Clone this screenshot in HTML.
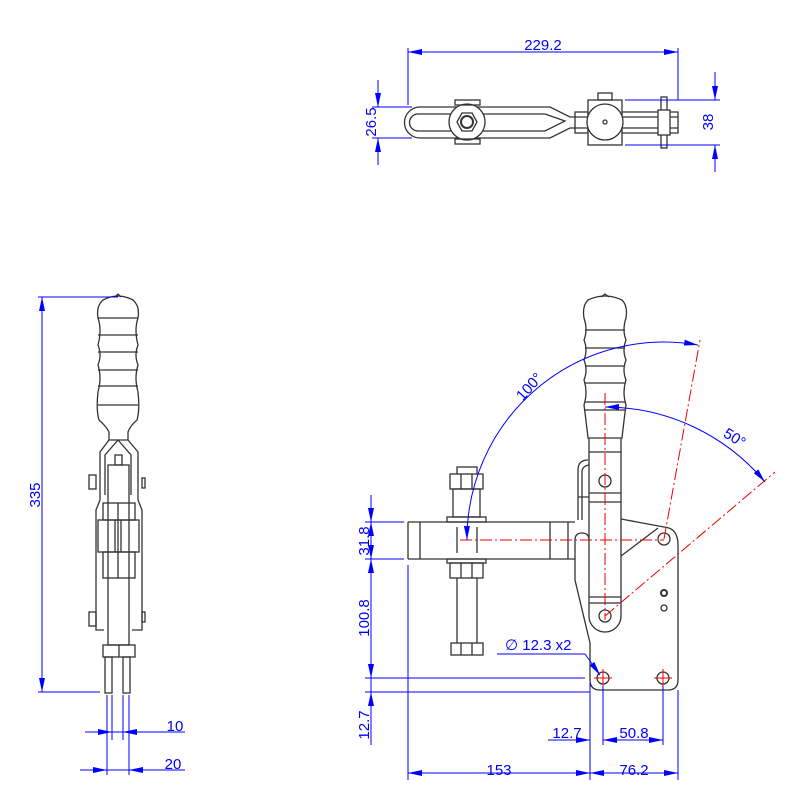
<!DOCTYPE html>
<html><head><meta charset="utf-8"><style>body{margin:0;background:#fff}svg{display:block}text{font-family:"Liberation Sans",sans-serif;fill:#00f;font-size:15px}</style></head><body>
<svg width="800" height="800" viewBox="0 0 800 800" xmlns="http://www.w3.org/2000/svg">
<defs>
<marker id="a" viewBox="0 0 14 6" refX="14" refY="3" markerWidth="14" markerHeight="6" orient="auto-start-reverse" markerUnits="userSpaceOnUse"><path d="M0,0 L14,3 L0,6z" fill="#00f"/></marker>
</defs>
<g fill="none" stroke="#333" stroke-width="1.3">
<!-- TOP VIEW -->
<path d="M420,107 H550 L570,117 H588 M420,138 H550 L570,128 H588 M420,107 A15.5,15.5 0 0 0 420,138"/>
<path d="M418,114 H545 L565,121 L545,131 H418 A8,8 0 0 1 418,114"/>
<circle cx="467" cy="122" r="18" fill="#fff"/>
<polygon points="457,122 462,113 472,113 477,122 472,131 462,131" />
<circle cx="467" cy="122" r="6" stroke-width="2"/>
<rect x="455" y="100" width="25" height="5"/><rect x="455" y="139" width="25" height="5"/>
<rect x="575" y="112" width="13" height="21"/>
<rect x="588" y="100" width="34" height="45" fill="#fff"/>
<rect x="598" y="93" width="14" height="7"/>
<circle cx="605" cy="122" r="18" fill="#fff"/><circle cx="605" cy="122" r="2"/>
<path d="M622,112 H678 V133 H622 M622,117 H678 M622,128 H678"/>
<rect x="661" y="97" width="6" height="51" fill="#fff"/>
<rect x="658" y="110" width="12" height="25" fill="#fff"/>
<!-- FRONT VIEW: handle -->
<path d="M588,300 Q605,292 622,300 Q628,306 626,318 Q622,330 626,340 Q622,350 626,360 Q622,370 626,380 Q622,392 626,405 Q624,420 622,438 H588 Q586,420 584,405 Q588,392 584,380 Q588,370 584,360 Q588,350 584,340 Q588,330 584,318 Q582,306 588,300z"/>
<path d="M601,297 L605,294 L609,297"/>
<path d="M585,330 H625 M585,348 H625 M585,366 H625 M585,383 H625 M585,402 H625 M585,410 H625"/>
<path d="M589,438 V616 A16,16 0 0 0 621,616 V438 M589,452 H621 M589,493 H621 M589,502 H621 M589,597 H621 M589,603 H621"/>
<circle cx="605" cy="481" r="6"/><circle cx="605" cy="616" r="6"/>
<path d="M578,520 V470 Q578,460 588,460 M582,520 V472 Q582,466 589,465 M578,497 H589"/>
<!-- body plate -->
<path d="M621,519 L664,527 Q678,528 678,545 V680 Q678,690 668,690 H600 Q590,690 590,680 V643 L575,580 V540 Q575,533 582,533 Q589,533 589,540"/>
<path d="M621,556 L658,528"/>
<circle cx="664" cy="539" r="6"/>
<circle cx="664" cy="593" r="3" stroke-width="2"/><circle cx="664" cy="608" r="3"/>
<circle cx="603" cy="678" r="6"/><circle cx="663" cy="678" r="6"/>
<!-- clamp bar -->
<path d="M408,522 H575 M408,559 H575 M408,522 V559 M420,522 V559 M550,522 V559 M568,522 V559"/>
<!-- spindle -->
<rect x="457" y="467" width="20" height="10"/>
<path d="M457,527 V553 M477,527 V553 M457,578 V643 M477,578 V643"/>
<rect x="450" y="474" width="33" height="15" fill="#fff"/><path d="M461,474 V489 M472,474 V489"/>
<rect x="447" y="517" width="39" height="5"/><rect x="453" y="489" width="27" height="28"/>
<rect x="447" y="559" width="39" height="4"/><rect x="450" y="563" width="33" height="15"/><path d="M461,563 V578 M472,563 V578"/>
<rect x="451" y="643" width="32" height="12"/><path d="M461,643 V655 M472,643 V655"/>
<!-- SIDE VIEW -->
<path d="M103,300 Q118,292 133,300 Q140,306 138,318 Q134,330 138,345 Q134,355 138,365 Q134,378 138,392 Q140,410 137,420 Q130,426 128,432 V440 H109 V432 Q106,426 99,420 Q96,410 98,392 Q102,378 98,365 Q102,355 98,345 Q102,330 98,318 Q96,306 103,300z"/>
<path d="M115,297 L118,294 L121,297 M98,318 H138 M98,335 H138 M98,352 H138 M98,370 H138 M98,386 H138 M98,405 H138"/>
<path d="M109,440 L100,452 V500 L96,510 V630 H104 M128,440 L138,452 V500 L142,510 V630 H132 M118,440 L105,455 V495 M118,440 L131,455 V495"/>
<rect x="108" y="465" width="21" height="180"/>
<rect x="115" y="455" width="7" height="10"/>
<rect x="103" y="503" width="32" height="17"/><rect x="98" y="520" width="41" height="32"/><rect x="103" y="552" width="32" height="26"/>
<path d="M118,503 V578 M115,520 V552 M121,520 V552"/>
<rect x="89" y="475" width="7" height="14"/><rect x="89" y="612" width="7" height="14"/>
<rect x="142" y="478" width="3" height="10"/><rect x="142" y="612" width="3" height="10"/>
<rect x="103" y="645" width="32" height="12"/><path d="M119,645 V657"/>
<rect x="105" y="657" width="7" height="36"/><rect x="123" y="657" width="7" height="36"/>
</g>
<!-- red centerlines -->
<g stroke="#e00" stroke-width="1" fill="none" stroke-dasharray="12,3,2,3">
<path d="M460,540 H664 M605,393 V620 M664,539 L700,340 M605,616 L775,472"/>
</g>
<g stroke="#e00" stroke-width="1"><path d="M594,678 H612 M603,669 V687 M654,678 H672 M663,669 V687"/></g>
<!-- blue dims -->
<g stroke="#00f" stroke-width="1" fill="none">
<path d="M408,48 V105 M678,48 V100"/><path d="M408,52 H678" marker-start="url(#a)" marker-end="url(#a)"/>
<path d="M372,107 H412 M372,138 H412 M378,80 V107 M378,138 V165"/><path d="M378,90 V107" marker-end="url(#a)"/><path d="M378,155 V138" marker-end="url(#a)"/>
<path d="M625,100 H720 M625,145 H720 M715,72 V100 M715,145 V172"/><path d="M715,83 V100" marker-end="url(#a)"/><path d="M715,162 V145" marker-end="url(#a)"/>
<path d="M38,297 H118 M38,692 H100"/><path d="M42,297 V692" marker-start="url(#a)" marker-end="url(#a)"/>
<path d="M107,695 V775 M112,695 V740 M123,695 V740 M129,695 V775 M85,732 H185 M80,770 H185"/>
<path d="M95,732 H112" marker-end="url(#a)"/><path d="M140,732 H123" marker-end="url(#a)"/>
<path d="M90,770 H107" marker-end="url(#a)"/><path d="M146,770 H129" marker-end="url(#a)"/>
<path d="M365,522 H404 M365,559 H404 M365,678 H585 M365,692 H590 M371,495 V745 M408,565 V780 M590,683 V780 M603,686 V745 M663,686 V745 M678,690 V780"/>
<path d="M371,505 V522" marker-end="url(#a)"/><path d="M371,540 V559" marker-end="url(#a)"/><path d="M371,540 V522" marker-end="url(#a)"/>
<path d="M371,600 V559" marker-end="url(#a)"/><path d="M371,640 V678" marker-end="url(#a)"/><path d="M371,710 V692" marker-end="url(#a)"/>
<path d="M408,773 H590" marker-start="url(#a)" marker-end="url(#a)"/><path d="M590,773 H678" marker-start="url(#a)" marker-end="url(#a)"/>
<path d="M548,740 H590" marker-end="url(#a)"/><path d="M603,740 H663" marker-start="url(#a)" marker-end="url(#a)"/>
<path d="M497,654 H585"/><path d="M585,654 L600,675" marker-end="url(#a)"/>
<path d="M467,540 A197,197 0 0 1 698,345" marker-start="url(#a)" marker-end="url(#a)"/>
<path d="M605,407 A209,209 0 0 1 765,482" marker-start="url(#a)" marker-end="url(#a)"/>
</g>
<text x="543" y="50" text-anchor="middle">229.2</text>
<text transform="translate(376,122) rotate(-90)" text-anchor="middle">26.5</text>
<text transform="translate(713,122) rotate(-90)" text-anchor="middle">38</text>
<text transform="translate(40,495) rotate(-90)" text-anchor="middle">335</text>
<text x="175" y="731" text-anchor="middle">10</text>
<text x="173" y="769" text-anchor="middle">20</text>
<text transform="translate(369,541) rotate(-90)" text-anchor="middle">31.8</text>
<text transform="translate(369,618) rotate(-90)" text-anchor="middle">100.8</text>
<text transform="translate(369,725) rotate(-90)" text-anchor="middle">12.7</text>
<text x="499" y="775" text-anchor="middle">153</text>
<text x="634" y="775" text-anchor="middle">76.2</text>
<text x="567" y="738" text-anchor="middle">12.7</text>
<text x="634" y="738" text-anchor="middle">50.8</text>
<text x="505" y="650">∅ 12.3 x2</text>
<text transform="translate(533,390) rotate(-48)" text-anchor="middle">100°</text>
<text transform="translate(732,442) rotate(32)" text-anchor="middle">50°</text>
</svg>
</body></html>
